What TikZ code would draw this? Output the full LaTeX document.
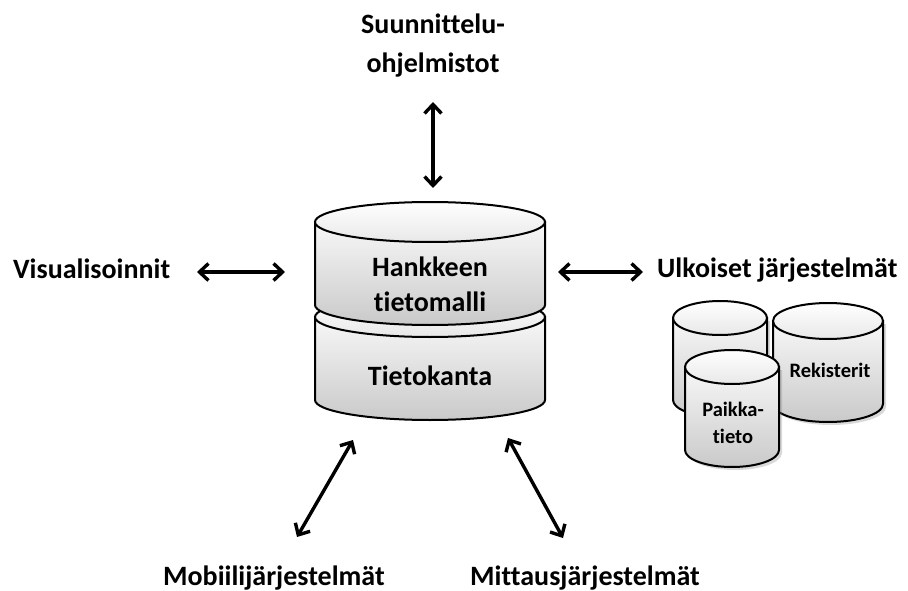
\documentclass[tikz,border=0pt]{standalone}
\usepackage{fontspec}
\setmainfont{Carlito}[Ligatures=NoCommon]
\usetikzlibrary{arrows.meta,shadows}

% sylinteri: keskikohta x, kannen y, pohjan y, sade x, sade y
\newcommand{\sylinteri}[5]{%
  \draw[vaippa] (#1-#4,#2) -- (#1-#4,#3)
    arc[start angle=180,end angle=0,x radius=#4,y radius=#5] -- (#1+#4,#2) -- cycle;
  \draw[kansi] (#1,#2) ellipse[x radius=#4,y radius=#5];
}

\begin{document}
\begin{tikzpicture}[x=1pt,y=-1pt,
    teksti/.style={font=\fontsize{28}{39}\selectfont\bfseries,inner sep=0pt,align=center},
    pieni/.style={font=\fontsize{20.5}{27}\selectfont\bfseries,inner sep=0pt,align=center},
    vaippa/.style={line width=2pt,top color=gray!6,bottom color=gray!42},
    kansi/.style={line width=2pt,top color=white,bottom color=gray!18},
    kaksinuoli/.style={line width=3.4pt,{Straight Barb[length=9pt,width=17pt]}-{Straight Barb[length=9pt,width=17pt]}}]
  \useasboundingbox (0,0) rectangle (908,591);

  % tietokanta ja tietomalli
  \sylinteri{430}{317}{400}{115}{20}
  \sylinteri{430}{222}{305}{115}{20}
  \node[teksti,font=\fontsize{28}{35}\selectfont\bfseries] (hanke) at (430,284) {Hankkeen\\tietomalli};
  \node[teksti,anchor=base] (kanta) at (430,385) {Tietokanta};

  % ulkoiset tietovarastot
  \begin{scope}[vaippa/.append style={drop shadow={opacity=0.3,shadow xshift=3pt,shadow yshift=-3pt}}]
    \sylinteri{720}{318}{400}{47}{17}
    \sylinteri{828}{321}{404}{55}{18}
    \sylinteri{732}{367}{450}{47}{17}
  \end{scope}
  \node[pieni,anchor=base] (rekisteri) at (830,377) {Rekisterit};
  \node[pieni] (paikka) at (733,423) {Paikka-\\tieto};

  % ymparoivat jarjestelmat
  \node[teksti] (suunnittelu) at (433,46) {Suunnittelu-\\ohjelmistot};
  \node[teksti,anchor=base west] (visualisointi) at (13,278) {Visualisoinnit};
  \node[teksti,anchor=base west] (ulkoiset) at (657,277) {Ulkoiset järjestelmät};
  \node[teksti,anchor=base west] (mobiili) at (163,585) {Mobiilijärjestelmät};
  \node[teksti,anchor=base west] (mittaus) at (470,585) {Mittausjärjestelmät};

  % nuolet
  \coordinate (n1) at (433,102); \coordinate (n2) at (433,188);
  \coordinate (v1) at (197,272); \coordinate (v2) at (285,272);
  \coordinate (u1) at (558,272); \coordinate (u2) at (643,272);
  \coordinate (m1) at (353,440); \coordinate (m2) at (297,537);
  \coordinate (t1) at (508,438); \coordinate (t2) at (563,538);
  \draw[kaksinuoli] (n1) -- (n2);
  \draw[kaksinuoli] (v1) -- (v2);
  \draw[kaksinuoli] (u1) -- (u2);
  \draw[kaksinuoli] (m1) -- (m2);
  \draw[kaksinuoli] (t1) -- (t2);
\end{tikzpicture}
\end{document}
